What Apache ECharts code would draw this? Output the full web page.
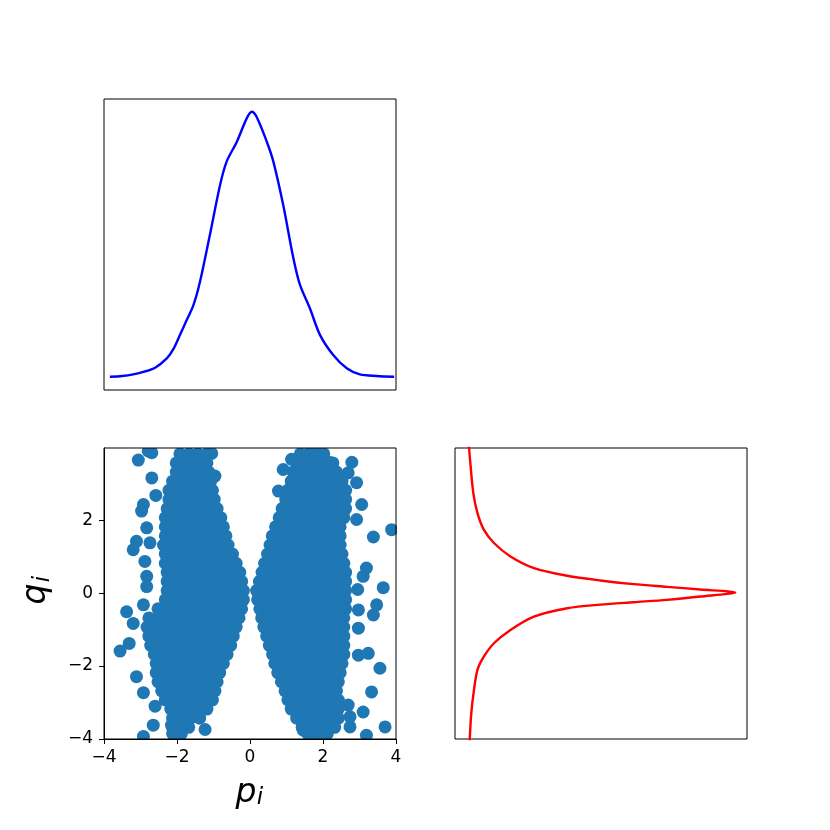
<!DOCTYPE html>
<html>
<head>
<meta charset="utf-8">
<script src="https://cdn.jsdelivr.net/npm/echarts@6/dist/echarts.min.js"></script>
<style>
html,body{margin:0;padding:0;background:#fff;}
#chart{width:830px;height:830px;}
</style>
</head>
<body>
<div id="chart"></div>
<script>
// ---------------- DATA ----------------
// Marginal density of p (top panel), normalised so the peak is 1
const pGrid    = [-3.84,-3.50,-3.20,-2.90,-2.60,-2.28,-2.10,-1.92,-1.75,-1.55,-1.37,-1.10,-0.82,-0.64,-0.36,-0.09,0.05,0.18,0.46,0.64,0.91,1.19,1.37,1.64,1.92,2.28,2.65,3.01,3.47,3.95];
const pDensity = [0.001,0.004,0.010,0.020,0.035,0.070,0.105,0.158,0.210,0.271,0.359,0.535,0.724,0.812,0.887,0.975,1.000,0.981,0.887,0.812,0.648,0.447,0.347,0.259,0.158,0.083,0.033,0.010,0.004,0.001];

// Marginal density of q (right panel), normalised so the peak is 1
const qGrid    = [4.05,3.48,2.75,2.20,1.74,1.375,1.007,0.688,0.476,0.347,0.247,0.173,0.099,0.017,-0.094,-0.184,-0.248,-0.314,-0.413,-0.644,-1.01,-1.375,-1.744,-2.11,-2.66,-3.30,-4.05];
const qDensity = [0.001,0.0075,0.0176,0.033,0.057,0.095,0.157,0.245,0.370,0.494,0.619,0.744,0.869,1.000,0.869,0.744,0.619,0.494,0.370,0.245,0.157,0.095,0.057,0.033,0.020,0.010,0.004];

// Scatter (p, q): dense left lobe, read row by row as [q, [p values]]
const leftLobeRows = [
 [3.82, [-1.92,-1.67,-1.43,-1.18]],
 [3.57, [-2.02,-1.81,-1.60,-1.39,-1.18]],
 [3.32, [-2.02,-1.80,-1.58,-1.35,-1.13]],
 [3.07, [-2.12,-1.86,-1.60,-1.34,-1.08]],
 [2.82, [-2.22,-1.98,-1.75,-1.51,-1.27,-1.03]],
 [2.57, [-2.22,-1.97,-1.73,-1.48,-1.23,-0.98]],
 [2.32, [-2.27,-2.04,-1.81,-1.59,-1.36,-1.13,-0.90]],
 [2.07, [-2.32,-2.07,-1.81,-1.56,-1.31,-1.05,-0.80]],
 [1.82, [-2.32,-2.09,-1.87,-1.64,-1.41,-1.18,-0.96,-0.73]],
 [1.57, [-2.32,-2.08,-1.85,-1.61,-1.37,-1.13,-0.90,-0.66]],
 [1.32, [-2.37,-2.12,-1.86,-1.61,-1.36,-1.10,-0.85,-0.60]],
 [1.07, [-2.32,-2.09,-1.86,-1.63,-1.40,-1.17,-0.94,-0.71,-0.48]],
 [0.82, [-2.32,-2.08,-1.83,-1.59,-1.35,-1.11,-0.87,-0.62,-0.38]],
 [0.57, [-2.27,-2.02,-1.77,-1.52,-1.28,-1.03,-0.78,-0.53,-0.28]],
 [0.32, [-2.27,-2.01,-1.76,-1.50,-1.25,-0.99,-0.74,-0.48,-0.23]],
 [0.07, [-2.27,-2.04,-1.81,-1.57,-1.34,-1.11,-0.88,-0.64,-0.41,-0.18]],
 [-0.18, [-2.32,-2.08,-1.84,-1.61,-1.37,-1.13,-0.89,-0.66,-0.42,-0.18]],
 [-0.43, [-2.52,-2.27,-2.01,-1.76,-1.50,-1.25,-0.99,-0.74,-0.48,-0.23]],
 [-0.68, [-2.77,-2.52,-2.28,-2.03,-1.78,-1.54,-1.29,-1.04,-0.79,-0.55,-0.30]],
 [-0.93, [-2.82,-2.58,-2.33,-2.09,-1.84,-1.60,-1.36,-1.11,-0.87,-0.62,-0.38]],
 [-1.18, [-2.77,-2.51,-2.26,-2.00,-1.74,-1.49,-1.23,-0.97,-0.72,-0.46]],
 [-1.43, [-2.72,-2.48,-2.23,-1.99,-1.75,-1.51,-1.26,-1.02,-0.77,-0.53]],
 [-1.68, [-2.62,-2.37,-2.12,-1.87,-1.63,-1.38,-1.13,-0.88,-0.63]],
 [-1.93, [-2.57,-2.34,-2.11,-1.88,-1.65,-1.42,-1.19,-0.96,-0.73]],
 [-2.18, [-2.57,-2.32,-2.07,-1.82,-1.58,-1.33,-1.08,-0.83]],
 [-2.43, [-2.52,-2.29,-2.06,-1.83,-1.59,-1.36,-1.13,-0.90]],
 [-2.68, [-2.42,-2.18,-1.93,-1.69,-1.45,-1.20,-0.96]],
 [-2.93, [-2.32,-2.06,-1.81,-1.55,-1.29,-1.03]],
 [-3.18, [-2.17,-1.92,-1.68,-1.43,-1.18]],
 [-3.43, [-2.12,-1.87,-1.63,-1.38]],
 [-3.68, [-2.12,-1.90,-1.68]],
 [-3.85, [-2.12,-1.88]]
];

// Scatter (p, q): dense right lobe, read row by row as [q, [p values]]
const rightLobeRows = [
 [3.82, [1.38,1.59,1.81,2.02]],
 [3.57, [1.28,1.53,1.77,2.02,2.27]],
 [3.32, [1.18,1.42,1.66,1.89,2.13,2.37]],
 [3.07, [1.13,1.36,1.59,1.83,2.06,2.29,2.52]],
 [2.82, [1.03,1.26,1.48,1.71,1.94,2.17,2.39,2.62]],
 [2.57, [0.98,1.21,1.45,1.68,1.92,2.15,2.39,2.62]],
 [2.32, [0.88,1.13,1.38,1.63,1.87,2.12,2.37,2.62]],
 [2.07, [0.80,1.05,1.31,1.56,1.81,2.06,2.32,2.57]],
 [1.82, [0.70,0.95,1.21,1.46,1.71,1.96,2.22,2.47]],
 [1.57, [0.61,0.84,1.08,1.31,1.54,1.77,2.00,2.24,2.47]],
 [1.32, [0.55,0.79,1.03,1.27,1.51,1.75,1.99,2.23,2.47]],
 [1.07, [0.48,0.74,0.99,1.25,1.50,1.76,2.01,2.27,2.52]],
 [0.82, [0.40,0.64,0.88,1.12,1.36,1.61,1.85,2.09,2.33,2.57]],
 [0.57, [0.33,0.58,0.84,1.09,1.35,1.60,1.86,2.11,2.37,2.62]],
 [0.32, [0.26,0.50,0.73,0.97,1.20,1.44,1.68,1.91,2.15,2.38,2.62]],
 [0.07, [0.18,0.42,0.67,0.91,1.16,1.40,1.64,1.89,2.13,2.38,2.62]],
 [-0.18, [0.21,0.45,0.69,0.93,1.17,1.42,1.66,1.90,2.14,2.38,2.62]],
 [-0.43, [0.27,0.51,0.74,0.98,1.21,1.45,1.68,1.92,2.15,2.39,2.62]],
 [-0.68, [0.32,0.57,0.82,1.07,1.32,1.57,1.82,2.07,2.32,2.57]],
 [-0.93, [0.38,0.62,0.87,1.11,1.35,1.60,1.84,2.08,2.33,2.57]],
 [-1.18, [0.46,0.69,0.93,1.16,1.40,1.63,1.87,2.10,2.34,2.57]],
 [-1.43, [0.53,0.79,1.04,1.30,1.55,1.81,2.06,2.32,2.57]],
 [-1.68, [0.62,0.86,1.11,1.35,1.60,1.84,2.08,2.33,2.57]],
 [-1.93, [0.68,0.91,1.14,1.37,1.60,1.83,2.06,2.29,2.52]],
 [-2.18, [0.76,1.00,1.25,1.49,1.74,1.98,2.23,2.47]],
 [-2.43, [0.86,1.12,1.38,1.64,1.90,2.16,2.42]],
 [-2.68, [0.96,1.20,1.43,1.67,1.90,2.14,2.37]],
 [-2.93, [1.04,1.27,1.50,1.73,1.96,2.19,2.42]],
 [-3.18, [1.13,1.39,1.65,1.90,2.16,2.42]],
 [-3.43, [1.28,1.51,1.74,1.96,2.19,2.42]],
 [-3.68, [1.43,1.65,1.88,2.10,2.32]],
 [-3.85, [1.58,1.76,1.94,2.12]]
];

// Scatter (p, q): isolated points around the lobes
const outlierPoints = [
 [-3.06,3.65],[-2.69,3.85],[-2.79,3.90],[-2.69,3.16],[-2.58,2.68],[-2.92,2.43],[-2.97,2.25],
 [-2.83,1.79],[-3.11,1.42],[-3.20,1.19],[-2.74,1.38],[-2.88,0.87],[-2.83,0.46],[-2.83,0.18],
 [-2.92,-0.32],[-3.38,-0.51],[-3.20,-0.83],[-3.31,-1.38],[-3.56,-1.59],[-3.11,-2.29],[-2.92,-2.73],
 [-2.60,-3.10],[-2.65,-3.62],[-2.92,-3.93],[-2.15,-3.62],[-1.96,-3.81],[-1.23,-3.74],[-1.05,3.83],[-0.96,3.21],
 [1.78,3.90],[1.14,3.67],[0.91,3.39],[2.19,3.58],[2.79,3.59],[2.69,3.30],[2.92,3.03],[0.78,2.80],
 [3.06,2.43],[2.92,2.02],[3.88,1.74],[3.38,1.54],[3.19,0.69],[3.10,0.46],[3.65,0.15],[2.95,0.10],
 [3.47,-0.32],[3.38,-0.60],[2.97,-0.46],[2.97,-0.96],[2.97,-1.70],[3.24,-1.65],[3.56,-2.06],
 [3.33,-2.71],[2.69,-3.07],[2.74,-3.39],[3.10,-3.26],[3.70,-3.67],[3.19,-3.90],[1.46,-3.76],
 [2.24,-3.67],[2.74,-3.67]
];

// Tick labels
const pTicks = [-4,-2,0,2,4];
const qTicks = [-4,-2,0,2];

// ---------------- BUILD ----------------
function rowsToPoints(rows){
  const out = [];
  rows.forEach(function(r){ r[1].forEach(function(p){ out.push([p, r[0]]); }); });
  return out;
}
const scatterData = rowsToPoints(leftLobeRows).concat(rowsToPoints(rightLobeRows), outlierPoints);
const topCurve = pGrid.map(function(p,i){ return [p, pDensity[i]]; });
const rightCurve = qGrid.map(function(q,i){ return [qDensity[i], q]; });

const FONT = 'DejaVu Sans';
function fmt(v){ return v < 0 ? '\u2212' + Math.abs(v) : String(v); }
const lineBlack = {color:'#000', width:1};

const option = {
  animation: false,
  backgroundColor: '#fff',
  grid: [
    {left:104, top:99, width:292, height:291, show:true, borderColor:'#000', borderWidth:1, backgroundColor:'transparent'},
    {left:104, top:448, width:292, height:291, show:true, borderColor:'#000', borderWidth:1, backgroundColor:'transparent', z:6},
    {left:455, top:448, width:292, height:291, show:true, borderColor:'#000', borderWidth:1, backgroundColor:'transparent'}
  ],
  xAxis: [
    {gridIndex:0, type:'value', min:-4, max:4, show:false},
    {gridIndex:1, type:'value', min:-4, max:4, interval:2, position:'bottom', z:6,
     axisLine:{show:true, onZero:false, lineStyle:lineBlack},
     axisTick:{show:true, length:5, lineStyle:lineBlack, customValues:pTicks},
     axisLabel:{show:true, margin:10, color:'#000', fontFamily:FONT, fontSize:17, formatter:fmt, customValues:pTicks},
     splitLine:{show:false}},
    {gridIndex:2, type:'value', min:-0.051, max:1.044, show:false}
  ],
  yAxis: [
    {gridIndex:0, type:'value', min:-0.049, max:1.048, show:false},
    {gridIndex:1, type:'value', min:-4, max:3.98, interval:2, position:'left', z:6,
     axisLine:{show:true, onZero:false, lineStyle:lineBlack},
     axisTick:{show:true, length:5, lineStyle:lineBlack, customValues:qTicks},
     axisLabel:{show:true, margin:11, color:'#000', fontFamily:FONT, fontSize:17, formatter:fmt, customValues:qTicks},
     splitLine:{show:false}},
    {gridIndex:2, type:'value', min:-4, max:3.98, show:false}
  ],
  graphic: [
    // white masks emulate clipping of markers at the scatter frame
    {type:'rect', z:4, silent:true, shape:{x:40, y:400, width:400, height:48}, style:{fill:'#fff'}},
    {type:'rect', z:4, silent:true, shape:{x:40, y:740, width:400, height:10}, style:{fill:'#fff'}},
    {type:'rect', z:4, silent:true, shape:{x:40, y:440, width:64, height:310}, style:{fill:'#fff'}},
    {type:'rect', z:4, silent:true, shape:{x:397, y:440, width:45, height:310}, style:{fill:'#fff'}},
    // axis titles p_i and q_i
    {type:'text', z:10, x:246, y:793, style:{text:'p', font:'italic 33px "DejaVu Sans"', fill:'#000', align:'center', verticalAlign:'middle'}},
    {type:'text', z:10, x:260, y:798, style:{text:'i', font:'italic 23px "DejaVu Sans"', fill:'#000', align:'center', verticalAlign:'middle'}},
    {type:'text', z:10, x:36, y:594, rotation:Math.PI/2, style:{text:'q', font:'italic 33px "DejaVu Sans"', fill:'#000', align:'center', verticalAlign:'middle'}},
    {type:'text', z:10, x:43, y:579, rotation:Math.PI/2, style:{text:'i', font:'italic 23px "DejaVu Sans"', fill:'#000', align:'center', verticalAlign:'middle'}}
  ],
  series: [
    {type:'line', xAxisIndex:0, yAxisIndex:0, data:topCurve, symbol:'none', smooth:0.3,
     lineStyle:{color:'#0000ff', width:2.4}, z:2, silent:true},
    {type:'scatter', xAxisIndex:1, yAxisIndex:1, data:scatterData, symbol:'circle', symbolSize:13,
     itemStyle:{color:'#1f77b4', opacity:1}, z:2, silent:true},
    {type:'line', xAxisIndex:2, yAxisIndex:2, data:rightCurve, symbol:'none', smooth:0.3,
     lineStyle:{color:'#ff0000', width:2.4}, z:2, silent:true}
  ]
};

const chart = echarts.init(document.getElementById('chart'), null, {renderer:'canvas'});
chart.setOption(option);
</script>
</body>
</html>
